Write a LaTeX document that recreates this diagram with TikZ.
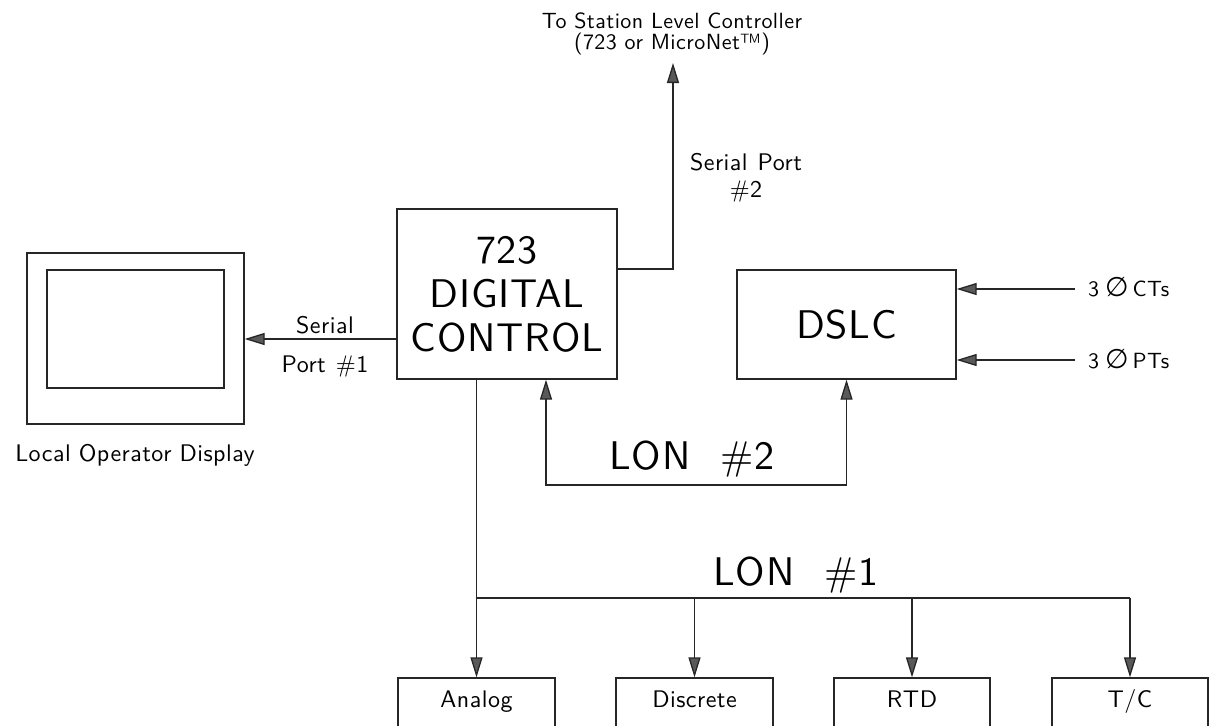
\documentclass[tikz,border=0pt]{standalone}
\usepackage{fontspec}
\newfontfamily\cad{lmsans10-regular}[Extension=.otf,LetterSpace=2]
\newfontfamily\dv{DejaVu Sans}
\usetikzlibrary{arrows.meta,calc}
\begin{document}
\begin{tikzpicture}[x=1pt,y=-1pt,
  ln/.style={draw=black!85,line width=1.3pt},
  arr/.style={ln,-{Triangle[length=20pt,width=12pt,fill=black!65]}},
  arrb/.style={ln,{Triangle[length=20pt,width=12pt,fill=black!65]}-{Triangle[length=20pt,width=12pt,fill=black!65]}},
  box/.style={draw=black!85,line width=1.3pt,rectangle,inner sep=0pt},
  bigtxt/.style={font=\cad\fontsize{40}{44}\selectfont,align=center},
  lbl/.style={font=\cad\fontsize{24}{28}\selectfont,inner sep=0pt,anchor=base},
  toplbl/.style={font=\cad\fontsize{22}{24}\selectfont,inner sep=0pt,anchor=base},
  sym/.style={font=\cad\fontsize{22}{24}\selectfont,inner sep=0pt,anchor=base west}]
\useasboundingbox (0,0) rectangle (1209,725);
\clip (0,0) rectangle (1209,725);

% main blocks
\node[box,bigtxt,minimum width=220pt,minimum height=170pt] (ctrl) at (507,294) {723\\DIGITAL\\CONTROL};
\node[box,minimum width=217pt,minimum height=171pt] (disp) at (135.5,338.5) {};
\node[box,minimum width=177pt,minimum height=118pt] (screen) at (135.5,329) {};
\node[box,bigtxt,minimum width=219pt,minimum height=109pt] (dslc) at (846.5,324.5) {DSLC};

% I/O boxes (cut by the lower edge)
\node[box,minimum width=157pt,minimum height=62pt] (analog) at (476.5,709) {};
\node[box,minimum width=157pt,minimum height=62pt] (discrete) at (694.5,709) {};
\node[box,minimum width=156pt,minimum height=62pt] (rtd) at (912,709) {};
\node[box,minimum width=156pt,minimum height=62pt] (tc) at (1130,709) {};
\node[lbl] (analogt) at (476.5,707) {Analog};
\node[lbl] (discretet) at (694.5,707) {Discrete};
\node[lbl] (rtdt) at (912,707) {RTD};
\node[lbl] (tct) at (1130,707) {T/C};

% labels
\node[toplbl] (slc1) at (672,29) {To Station Level Controller};
\node[toplbl] (slc2) at (672,50) {(723 or MicroNet™)};
\node[lbl] (sp2a) at (746,170) {Serial\hspace{10pt}Port};
\node[lbl] (sp2b) at (746,197) {\#2};
\node[lbl] (sp1a) at (325,333) {Serial};
\node[lbl] (sp1b) at (325,372) {Port\hspace{10pt}\#1};
\node[lbl] (lod) at (135,461) {Local\hspace{8pt}Operator\hspace{8pt}Display};
\node[bigtxt,inner sep=0pt,anchor=base] (lon2) at (692,469) {LON\hspace{30pt}\#2};
\node[bigtxt,inner sep=0pt,anchor=base] (lon1) at (796,585) {LON\hspace{30pt}\#1};
\node[sym] (cts) at (1088,296) {3\hspace{6pt}{\dv\fontsize{27}{27}\selectfont ∅}\hspace{4pt}CTs};
\node[sym] (pts) at (1088,368) {3\hspace{6pt}{\dv\fontsize{27}{27}\selectfont ∅}\hspace{4pt}PTs};

% connectors
\coordinate (slc) at (673,63);
\draw[arr] ($(ctrl.east)+(0,-25)$) -| (slc);
\coordinate (s1) at ($(ctrl.west)+(0,45)$);
\draw[arr] (s1) -- (s1 -| disp.east);
\coordinate (l2a) at (546,485);
\coordinate (l2b) at (dslc.south |- l2a);
\draw[arrb] (l2a |- ctrl.south) -- (l2a) -- (l2b) -- (dslc.south);
\coordinate (l1) at (476.5,598);
\draw[arr] (l1 |- ctrl.south) -- (analog.north);
\draw[ln] (l1) -- (l1 -| tc.north);
\draw[arr] (l1 -| discrete.north) -- (discrete.north);
\draw[arr] (l1 -| rtd.north) -- (rtd.north);
\draw[arr] (l1 -| tc.north) -- (tc.north);
\coordinate (ctin) at (1075,289);
\coordinate (ptin) at (1075,360);
\draw[arr] (ctin) -- (ctin -| dslc.east);
\draw[arr] (ptin) -- (ptin -| dslc.east);
\end{tikzpicture}
\end{document}
